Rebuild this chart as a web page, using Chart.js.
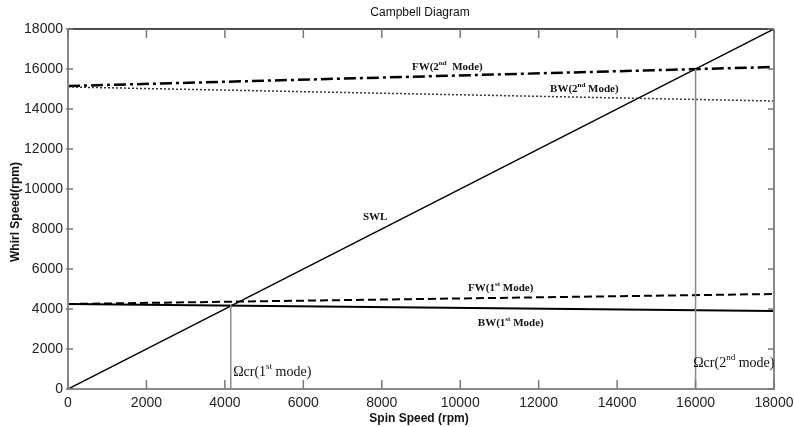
<!DOCTYPE html>
<html lang="en">
<head>
  <meta charset="UTF-8">
  <title>Campbell Diagram</title>
  <script src="https://cdn.jsdelivr.net/npm/chart.js"></script>
  <style>
    body { margin: 0; background: #fff; }
    canvas { display: block; }
  </style>
</head>
<body>
  <canvas id="campbell" width="794" height="427"></canvas>

  <script>
    // spin speed (rpm) at the two ends of each line
    const spin = [0, 18000];
    const swl = [0, 18000];
    const fw2 = [15150, 16100];
    const bw2 = [15100, 14400];
    const fw1 = [4250, 4750];
    const bw1 = [4250, 3900];

    // critical speed markers
    const crit1X = [4150, 4150];
    const crit1Y = [0, 4200];
    const crit2X = [16000, 16000];
    const crit2Y = [0, 16000];

    const tickValues = [0, 2000, 4000, 6000, 8000, 10000, 12000, 14000, 16000, 18000];

    // text labels: position in data units, pieces with optional superscript
    const labels = [
      { x: 8770, y: 16100, font: 'bold 11px "Liberation Serif"', parts: [['FW(2'], ['nd', 1], ['  Mode)']] },
      { x: 12290, y: 15000, font: 'bold 11px "Liberation Serif"', parts: [['BW(2'], ['nd', 1], [' Mode)']] },
      { x: 7520, y: 8600, font: 'bold 11px "Liberation Serif"', parts: [['SWL']] },
      { x: 10200, y: 5050, font: 'bold 11px "Liberation Serif"', parts: [['FW(1'], ['st', 1], [' Mode)']] },
      { x: 10450, y: 3300, font: 'bold 11px "Liberation Serif"', parts: [['BW(1'], ['st', 1], [' Mode)']] },
      { x: 4210, y: 850, font: '14px "Liberation Serif"', parts: [['\u03A9cr(1'], ['st', 1], [' mode)']] },
      { x: 15940, y: 1300, font: '14px "Liberation Serif"', parts: [['\u03A9cr(2'], ['nd', 1], [' mode)']] }
    ];

    const pts = (xs, ys) => xs.map((x, i) => ({ x: x, y: ys[i] }));

    function drawParts(ctx, lbl, px, py) {
      const size = parseFloat(lbl.font.match(/(\d+)px/)[1]);
      const bold = lbl.font.startsWith('bold') ? 'bold ' : '';
      let cx = px;
      lbl.parts.forEach(p => {
        if (p[1]) {
          ctx.font = bold + Math.round(size * 0.62) + 'px "Liberation Serif"';
          ctx.fillText(p[0], cx, py - size * 0.38);
        } else {
          ctx.font = lbl.font;
          ctx.fillText(p[0], cx, py);
        }
        cx += ctx.measureText(p[0]).width;
      });
    }

    const decor = {
      id: 'decor',
      afterDraw(chart) {
        const ctx = chart.ctx;
        const a = chart.chartArea;
        const xs = chart.scales.x, ys = chart.scales.y;
        ctx.save();

        // frame
        ctx.lineWidth = 2;
        ctx.strokeStyle = '#8a8a8a';
        ctx.beginPath();
        ctx.moveTo(a.left, a.top); ctx.lineTo(a.left, a.bottom); ctx.lineTo(a.right, a.bottom); ctx.lineTo(a.right, a.top);
        ctx.stroke();
        ctx.strokeStyle = '#111';
        ctx.lineWidth = 1.5;
        ctx.beginPath();
        ctx.moveTo(a.left, a.top); ctx.lineTo(a.right, a.top);
        ctx.stroke();

        // inward ticks
        ctx.strokeStyle = '#7a7a7a';
        ctx.lineWidth = 1.5;
        ctx.beginPath();
        tickValues.forEach(v => {
          const x = xs.getPixelForValue(v);
          ctx.moveTo(x, a.bottom); ctx.lineTo(x, a.bottom - 9);
          ctx.moveTo(x, a.top); ctx.lineTo(x, a.top + 9);
          const y = ys.getPixelForValue(v);
          ctx.moveTo(a.left - 2, y); ctx.lineTo(a.left + 5, y);
          ctx.moveTo(a.right, y); ctx.lineTo(a.right - 6, y);
        });
        ctx.stroke();

        // titles
        ctx.fillStyle = '#111';
        ctx.textBaseline = 'middle';
        ctx.textAlign = 'center';
        ctx.font = '12px Arial';
        ctx.fillText('Campbell Diagram', 420, 13);
        ctx.font = 'bold 12px Arial';
        ctx.fillText('Spin Speed (rpm)', 419, 419);
        ctx.save();
        ctx.translate(16, 212);
        ctx.rotate(-Math.PI / 2);
        ctx.fillText('Whirl Speed(rpm)', 0, 0);
        ctx.restore();

        // curve labels
        ctx.textAlign = 'left';
        labels.forEach(l => {
          drawParts(ctx, l, xs.getPixelForValue(l.x), ys.getPixelForValue(l.y));
        });
        ctx.restore();
      }
    };

    const plain = v => String(v);

    const ctx = document.getElementById('campbell').getContext('2d');
    new Chart(ctx, {
      type: 'line',
      data: {
        datasets: [
          { label: 'crit1', data: pts(crit1X, crit1Y), borderColor: '#8a8a8a', borderWidth: 1.5 },
          { label: 'crit2', data: pts(crit2X, crit2Y), borderColor: '#8a8a8a', borderWidth: 1.5 },
          { label: 'BW 2nd', data: pts(spin, bw2), borderColor: '#333', borderWidth: 1.5, borderDash: [2, 2] },
          { label: 'FW 2nd', data: pts(spin, fw2), borderColor: '#000', borderWidth: 2.5, borderDash: [12, 4, 3, 4] },
          { label: 'FW 1st', data: pts(spin, fw1), borderColor: '#000', borderWidth: 2, borderDash: [8, 4] },
          { label: 'BW 1st', data: pts(spin, bw1), borderColor: '#000', borderWidth: 2 },
          { label: 'SWL', data: pts(spin, swl), borderColor: '#000', borderWidth: 1.5 }
        ]
      },
      options: {
        responsive: false,
        animation: false,
        devicePixelRatio: 1,
        elements: { point: { radius: 0 }, line: { tension: 0 } },
        layout: { padding: { top: 29, right: 20, left: 0, bottom: 0 } },
        plugins: { legend: { display: false }, tooltip: { enabled: false } },
        scales: {
          x: {
            type: 'linear', min: 0, max: 18000,
            grid: { display: false, drawTicks: false }, border: { display: false },
            ticks: { stepSize: 2000, color: '#222', font: { family: 'Arial', size: 14 }, padding: 6, maxRotation: 0, callback: plain },
            afterFit(s) { s.height = 38; s.paddingLeft = 0; s.paddingRight = 0; }
          },
          y: {
            min: 0, max: 18000,
            grid: { display: false, drawTicks: false }, border: { display: false },
            ticks: { stepSize: 2000, color: '#222', font: { family: 'Arial', size: 14 }, padding: 5, callback: plain },
            afterFit(s) { s.width = 68; s.paddingTop = 0; s.paddingBottom = 0; }
          }
        }
      },
      plugins: [decor]
    });
  </script>
</body>
</html>
